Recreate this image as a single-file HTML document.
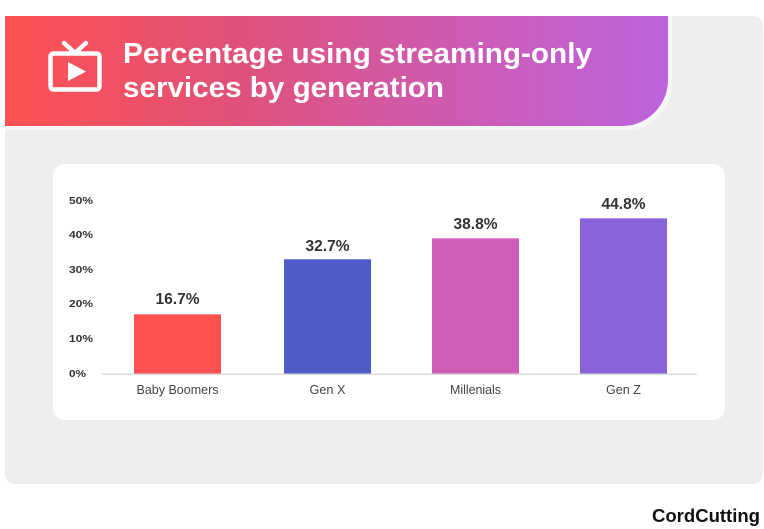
<!DOCTYPE html>
<html><head><meta charset="utf-8"><style>
html,body{margin:0;padding:0;background:#fff;}
svg{display:block;}
text{font-family:"Liberation Sans",sans-serif;}
</style></head><body>
<svg width="764" height="529" viewBox="0 0 764 529" xmlns="http://www.w3.org/2000/svg">
<defs>
<linearGradient id="hg" x1="0" y1="0" x2="1" y2="0">
<stop offset="0" stop-color="#ff5151"/>
<stop offset="0.35" stop-color="#e0517a"/>
<stop offset="0.65" stop-color="#cf5aae"/>
<stop offset="1" stop-color="#bc63dd"/>
</linearGradient>
</defs>
<rect x="0" y="0" width="764" height="529" fill="#ffffff"/>
<!-- gray panel -->
<rect x="5" y="16" width="758" height="468" rx="10" fill="#eeeeee"/>
<!-- header border -->
<path d="M5 16 H672 V84 A46 46 0 0 1 626 130 H5 Z" fill="#f6f6f6"/>
<!-- header -->
<path d="M5 16 H668 V80 A46 46 0 0 1 622 126 H5 Z" fill="url(#hg)"/>
<!-- TV icon -->
<g fill="none" stroke="#fff" stroke-width="4.5" stroke-linejoin="round" stroke-linecap="round">
<rect x="50.5" y="53.5" width="49" height="36" rx="3"/>
<path d="M64 43 L75 53 L86 43"/>
</g>
<path d="M68 62 L86 71.5 L68 81 Z" fill="#fff"/>
<text x="123" y="63" font-size="29" font-weight="bold" fill="#fff" textLength="469" lengthAdjust="spacingAndGlyphs">Percentage using streaming-only</text>
<text x="123" y="97" font-size="29" font-weight="bold" fill="#fff" textLength="321" lengthAdjust="spacingAndGlyphs">services by generation</text>
<!-- card -->
<rect x="53" y="164" width="672" height="256" rx="12" fill="#ffffff"/>
<!-- y labels -->
<g font-size="10" font-weight="bold" fill="#333">
<text x="69" y="204" textLength="24" lengthAdjust="spacingAndGlyphs">50%</text>
<text x="69" y="238" textLength="24" lengthAdjust="spacingAndGlyphs">40%</text>
<text x="69" y="273" textLength="24" lengthAdjust="spacingAndGlyphs">30%</text>
<text x="69" y="307" textLength="24" lengthAdjust="spacingAndGlyphs">20%</text>
<text x="69" y="342" textLength="24" lengthAdjust="spacingAndGlyphs">10%</text>
<text x="69" y="377" textLength="17" lengthAdjust="spacingAndGlyphs">0%</text>
</g>
<!-- bars -->
<rect x="134" y="314" width="87" height="60" fill="#ff5052"/>
<rect x="134" y="314" width="87" height="1" fill="#ff8a8b"/>
<rect x="284" y="259" width="87" height="115" fill="#4f5bc8"/>
<rect x="284" y="259" width="87" height="1" fill="#8088dc"/>
<rect x="432" y="238" width="87" height="136" fill="#cc5eb8"/>
<rect x="432" y="238" width="87" height="1" fill="#dd92d0"/>
<rect x="580" y="218" width="87" height="156" fill="#8863dc"/>
<rect x="580" y="218" width="87" height="1" fill="#ae95ea"/>
<!-- axis -->
<rect x="102" y="373.5" width="595" height="1.5" fill="#dcdcdc"/>
<!-- value labels -->
<g font-size="16" font-weight="bold" fill="#333" text-anchor="middle">
<text x="177.5" y="304" textLength="44" lengthAdjust="spacingAndGlyphs">16.7%</text>
<text x="327.5" y="251" textLength="44" lengthAdjust="spacingAndGlyphs">32.7%</text>
<text x="475.5" y="229" textLength="44" lengthAdjust="spacingAndGlyphs">38.8%</text>
<text x="623.5" y="209" textLength="44" lengthAdjust="spacingAndGlyphs">44.8%</text>
</g>
<!-- x labels -->
<g font-size="13" fill="#444" text-anchor="middle">
<text x="177.5" y="394" textLength="82" lengthAdjust="spacingAndGlyphs">Baby Boomers</text>
<text x="327.5" y="394" textLength="36" lengthAdjust="spacingAndGlyphs">Gen X</text>
<text x="475.5" y="394" textLength="51" lengthAdjust="spacingAndGlyphs">Millenials</text>
<text x="623.5" y="394" textLength="35" lengthAdjust="spacingAndGlyphs">Gen Z</text>
</g>
<!-- logo -->
<text x="652" y="522" font-size="18" font-weight="bold" fill="#111" textLength="108" lengthAdjust="spacingAndGlyphs">CordCutting</text>
</svg>
</body></html>
